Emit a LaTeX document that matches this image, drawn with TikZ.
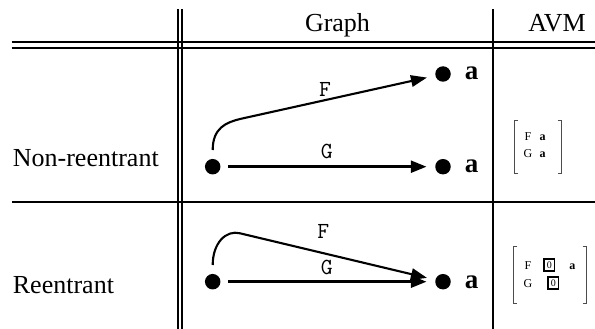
\documentclass[tikz,border=0pt]{standalone}
\usepackage{fontspec}
\setmainfont{Liberation Serif}
\usetikzlibrary{arrows.meta}
\tikzset{
  rule/.style={line width=2.2pt},
  dot/.style={circle, fill=black, minimum size=15.5pt, inner sep=0pt},
  bigtext/.style={font=\fontsize{26}{30}\selectfont, inner sep=0pt, anchor=base},
  lbl/.style={font=\fontsize{27}{30}\selectfont\bfseries, inner sep=0pt, anchor=base},
  edgelbl/.style={font=\ttfamily\fontsize{23}{26}\selectfont, inner sep=0pt},
  avmtext/.style={font=\fontsize{12}{14}\selectfont, inner sep=0pt, anchor=base},
  avmbold/.style={font=\fontsize{12}{14}\selectfont\bfseries, inner sep=0pt, anchor=base},
  tagbox/.style={draw, line width=1.8pt, minimum width=10.5pt, minimum height=12.5pt, inner sep=0pt, font=\fontsize{10}{11}\selectfont},
  brk/.style={draw=black!70, line width=0.8pt},
  garrow/.style={line width=3.5pt, -{Triangle[length=16pt,width=11.5pt]}, shorten <=7.8pt, shorten >=8.2pt},
  farrow/.style={line width=2.1pt, -{Triangle[length=16pt,width=11.5pt]}}
}
\begin{document}
\begin{tikzpicture}[x=1pt,y=-1pt]
\useasboundingbox (0,0) rectangle (595,329);
% table rules
\draw[rule] (177.7,9) -- (177.7,329);
\draw[rule] (182.3,9) -- (182.3,329);
\draw[rule] (492.7,9) -- (492.7,329);
\draw[rule] (11.7,41.7) -- (595,41.7);
\draw[rule] (11.7,47.7) -- (595,47.7);
\draw[rule] (12,201.7) -- (595,201.7);
% headers
\node[bigtext] (hgraph) at (337.5,31.7) {Graph};
\node[bigtext] (havm) at (557,31.7) {AVM};
\node[bigtext, anchor=base west] (hnon) at (12.7,166) {Non-reentrant};
\node[bigtext, anchor=base west] (hre) at (12.7,293.3) {Reentrant};
% row 1 graph
\node[dot] (r1) at (212.7,166.7) {};
\node[dot] (t1a) at (443,74) {};
\node[dot] (t1b) at (443,166.7) {};
\node[lbl] (a1a) at (471.7,80) {a};
\node[lbl] (a1b) at (471.7,172.5) {a};
\coordinate (f1s) at (212.7,150);
\coordinate (f1b) at (240,119);
\draw[garrow] (r1) -- (t1b);
\draw[farrow, shorten >=8.5pt] (f1s) .. controls +(0,-22) and +(-14,3.5) .. (f1b) -- (t1a);
\node[edgelbl] (lf1) at (325,89.3) {F};
\node[edgelbl] (lg1) at (326.7,151.7) {G};
% row 2 graph
\node[dot] (r2) at (212.7,281.7) {};
\node[dot] (t2) at (443,281.7) {};
\node[lbl] (a2) at (471.7,288) {a};
\coordinate (f2s) at (212.7,265);
\coordinate (f2b) at (240,233.3);
\draw[garrow] (r2) -- (t2);
\draw[farrow, shorten >=8.5pt] (f2s) .. controls +(0,-22) and +(-14,-3.6) .. (f2b) -- (t2);
\node[edgelbl] (lf2) at (323.3,231.7) {F};
\node[edgelbl] (lg2) at (326.7,267.3) {G};
% AVM row 1
\draw[brk] (518,120) -- (514,120) -- (514,173.3) -- (518,173.3);
\draw[brk] (557.7,120) -- (561.7,120) -- (561.7,173.3) -- (557.7,173.3);
\node[avmtext] (af1) at (528,140.8) {F};
\node[avmbold] (aa1) at (542.5,140.8) {a};
\node[avmtext] (ag1) at (528,157.5) {G};
\node[avmbold] (ab1) at (542.5,157.5) {a};
% AVM row 2
\draw[brk] (517.3,246.7) -- (513.3,246.7) -- (513.3,303.3) -- (517.3,303.3);
\draw[brk] (582.7,246.7) -- (586.7,246.7) -- (586.7,303.3) -- (582.7,303.3);
\node[avmtext] (af2) at (528,269.2) {F};
\node[tagbox] (tb1) at (549.3,265) {0};
\node[avmbold] (aa2) at (572.3,269.2) {a};
\node[avmtext] (ag2) at (528,287.5) {G};
\node[tagbox] (tb2) at (553.3,283) {0};
\end{tikzpicture}
\end{document}
